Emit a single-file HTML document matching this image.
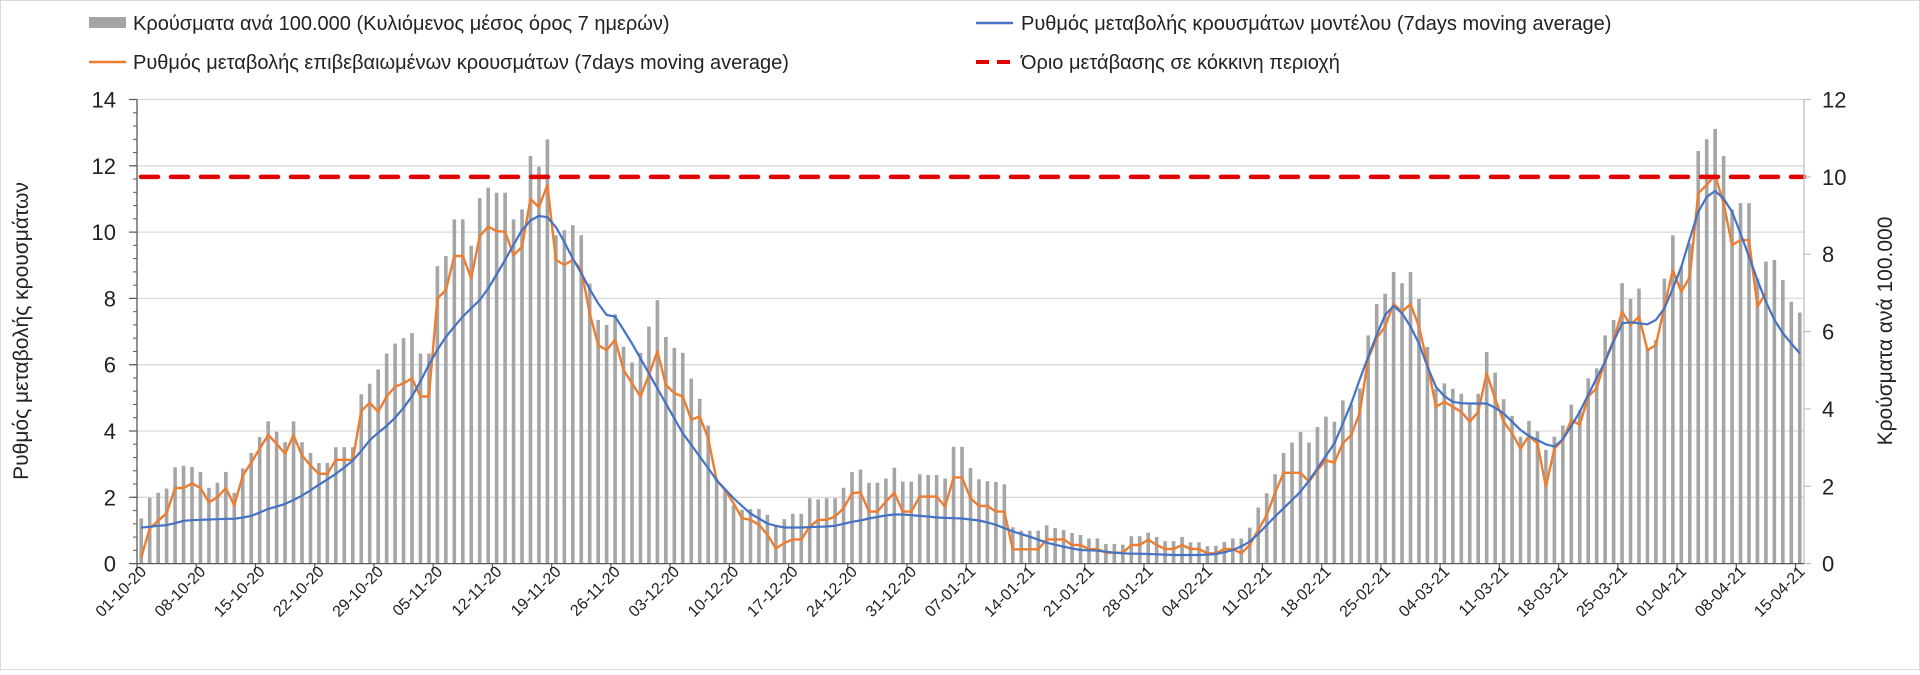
<!DOCTYPE html>
<html><head><meta charset="utf-8">
<style>
html,body{margin:0;padding:0;background:#fff;}
body{width:1920px;height:670px;overflow:hidden;font-family:"Liberation Sans",sans-serif;}
svg text{font-family:"Liberation Sans",sans-serif;fill:#222;}
</style></head>
<body>
<svg id="chart" width="1920" height="670" viewBox="0 0 1920 670" xmlns="http://www.w3.org/2000/svg">
<rect x="0.5" y="0.5" width="1919" height="669" fill="#fff" stroke="#d9d9d9"/>
<g>
 <g>
  <rect x="89" y="17" width="37" height="11" fill="#a5a5a5"/>
  <text x="133" y="30" font-size="20">Κρούσματα ανά 100.000 (Κυλιόμενος μέσος όρος 7 ημερών)</text>
 </g>
 <g>
  <line x1="976" y1="23" x2="1013" y2="23" stroke="#4472c4" stroke-width="2.5"/>
  <text x="1021" y="30" font-size="20">Ρυθμός μεταβολής κρουσμάτων μοντέλου (7days moving average)</text>
 </g>
 <g>
  <line x1="89" y1="62" x2="126" y2="62" stroke="#ed7d31" stroke-width="2.5"/>
  <text x="133" y="69" font-size="20">Ρυθμός μεταβολής επιβεβαιωμένων κρουσμάτων (7days moving average)</text>
 </g>
 <g>
  <line x1="976" y1="62" x2="1013" y2="62" stroke="#e00000" stroke-width="4" stroke-dasharray="13,8"/>
  <text x="1021" y="69" font-size="20">Όριο μετάβασης σε κόκκινη περιοχή</text>
 </g>
</g>
<text font-size="21" text-anchor="middle" transform="translate(28,331) rotate(-90)">Ρυθμός μεταβολής κρουσμάτων</text>
<text font-size="21" text-anchor="middle" transform="translate(1892,331) rotate(-90)">Κρούσματα ανά 100.000</text>
<g id="grid"></g><g id="bars"></g><g id="lines"></g><g id="axes"></g>
</svg>
<script>
const xTickLabels = ["01-10-20","08-10-20","15-10-20","22-10-20","29-10-20","05-11-20","12-11-20","19-11-20","26-11-20","03-12-20","10-12-20","17-12-20","24-12-20","31-12-20","07-01-21","14-01-21","21-01-21","28-01-21","04-02-21","11-02-21","18-02-21","25-02-21","04-03-21","11-03-21","18-03-21","25-03-21","01-04-21","08-04-21","15-04-21"];
const leftTicks = [0,2,4,6,8,10,12,14];
const rightTicks = [0,2,4,6,8,10,12];
const redThreshold = 10;
const casesPer100k = [
1.17,1.70,1.83,1.94,2.49,2.53,2.50,2.37,1.96,2.09,2.37,1.83,2.46,2.86,3.27,3.68,3.41,3.14,3.68,3.14,2.86,2.60,2.60,3.01,3.01,3.01,4.38,4.65,
5.02,5.43,5.69,5.83,5.96,5.43,5.43,7.69,7.95,8.90,8.90,8.22,9.45,9.72,9.59,9.59,8.90,9.16,10.54,10.26,10.97,8.49,8.62,8.75,8.49,7.24,6.30,6.17,
6.45,5.61,5.20,5.45,6.13,6.81,5.86,5.58,5.45,4.78,4.26,3.57,2.19,1.92,1.52,1.39,1.41,1.41,1.26,1.00,1.15,1.29,1.29,1.69,1.66,1.69,1.69,1.96,2.37,
2.43,2.09,2.09,2.20,2.48,2.12,2.12,2.31,2.29,2.29,2.20,3.02,3.02,2.47,2.18,2.13,2.11,2.05,0.94,0.85,0.85,0.85,0.99,0.92,0.87,0.79,0.74,0.65,
0.65,0.51,0.51,0.49,0.71,0.71,0.80,0.69,0.58,0.58,0.69,0.55,0.55,0.45,0.46,0.56,0.65,0.65,0.93,1.45,1.82,2.31,2.86,3.13,3.40,3.13,3.53,3.80,3.67,
4.22,4.12,4.53,5.90,6.71,6.98,7.54,7.25,7.54,6.84,5.60,4.52,4.66,4.52,4.39,4.11,4.39,5.47,4.94,4.25,3.82,3.28,3.69,3.42,2.94,3.28,3.57,4.11,
3.97,4.79,5.05,5.90,6.30,7.25,6.84,7.11,5.56,5.78,7.37,8.49,7.68,8.28,10.67,10.97,11.24,10.54,9.16,9.32,9.32,7.37,7.81,7.85,7.33,6.77,6.49];
const confirmedRate = [
0.18,1.06,1.29,1.52,2.28,2.28,2.42,2.28,1.85,2.00,2.28,1.75,2.66,3.04,3.47,3.88,3.62,3.31,3.87,3.26,2.96,2.71,2.71,3.13,3.13,3.13,4.60,4.85,
4.58,5.04,5.34,5.44,5.59,5.04,5.04,8.00,8.25,9.28,9.28,8.61,9.88,10.16,10.03,10.01,9.30,9.56,11.00,10.75,11.42,9.16,9.01,9.16,8.86,7.55,6.59,6.44,
6.75,5.84,5.44,5.04,5.69,6.40,5.39,5.14,5.04,4.34,4.44,3.78,2.52,2.22,1.82,1.37,1.32,1.17,0.87,0.46,0.62,0.73,0.73,1.11,1.32,1.32,1.42,1.67,2.12,
2.15,1.57,1.57,1.87,2.14,1.57,1.57,2.02,2.02,2.02,1.72,2.60,2.60,1.97,1.74,1.74,1.57,1.57,0.43,0.43,0.43,0.43,0.73,0.73,0.73,0.56,0.56,0.43,
0.44,0.33,0.33,0.33,0.56,0.56,0.72,0.56,0.44,0.44,0.56,0.44,0.44,0.31,0.31,0.44,0.44,0.31,0.56,1.01,1.46,2.14,2.74,2.74,2.74,2.47,2.82,3.12,3.04,
3.63,3.88,4.55,6.19,6.80,7.15,7.83,7.60,7.83,7.15,6.04,4.73,4.88,4.73,4.58,4.28,4.58,5.74,4.98,4.28,3.93,3.47,3.85,3.63,2.32,3.47,3.73,4.33,
4.19,5.04,5.29,6.14,6.74,7.60,7.20,7.45,6.44,6.59,7.75,8.85,8.20,8.65,11.17,11.42,11.72,10.87,9.61,9.76,9.76,7.75,8.17];
const modelRate = [
1.09,1.11,1.14,1.16,1.22,1.29,1.31,1.32,1.33,1.34,1.35,1.35,1.39,1.44,1.54,1.65,1.72,1.80,1.92,2.05,2.21,2.38,2.54,2.71,2.90,3.11,3.40,3.72,
3.95,4.15,4.40,4.70,5.05,5.50,6.00,6.45,6.84,7.15,7.45,7.70,7.95,8.30,8.72,9.16,9.62,10.06,10.35,10.49,10.45,10.15,9.70,9.20,8.76,8.28,7.85,7.50,
7.45,7.05,6.64,6.19,5.74,5.28,4.83,4.38,3.93,3.58,3.23,2.88,2.52,2.24,1.97,1.74,1.51,1.36,1.21,1.14,1.09,1.09,1.09,1.10,1.11,1.12,1.14,1.20,1.26,
1.30,1.36,1.41,1.45,1.48,1.48,1.46,1.44,1.42,1.39,1.38,1.37,1.36,1.33,1.30,1.24,1.17,1.07,0.97,0.89,0.81,0.72,0.63,0.57,0.51,0.46,0.41,0.40,
0.39,0.36,0.33,0.31,0.30,0.30,0.29,0.28,0.27,0.26,0.26,0.26,0.26,0.27,0.29,0.34,0.41,0.52,0.66,0.90,1.16,1.42,1.67,1.92,2.17,2.50,2.87,3.25,3.63,
4.22,4.84,5.55,6.24,6.90,7.50,7.77,7.55,7.15,6.64,5.95,5.33,5.05,4.88,4.84,4.83,4.83,4.83,4.70,4.53,4.28,4.03,3.85,3.73,3.60,3.53,3.75,4.15,
4.58,5.09,5.60,6.09,6.70,7.25,7.28,7.25,7.22,7.35,7.70,8.30,8.95,9.80,10.61,11.06,11.24,11.01,10.61,9.96,9.26,8.55,7.90,7.35,6.95,6.64,6.34];

const NS='http://www.w3.org/2000/svg';
const X0=137, X1=1804, Y0=563.6, YT=99.5, N=casesPer100k.length;
const bw=(X1-X0)/N;
const xC=i=>X0+bw*(i+0.5);
const yL=v=>Y0-(Y0-YT)*v/14;
const yR=v=>Y0-(Y0-YT)*v/12;
function mk(tag,attrs,parent){const e=document.createElementNS(NS,tag);for(const k in attrs)e.setAttribute(k,attrs[k]);parent.appendChild(e);return e;}
const grid=document.getElementById('grid'),bars=document.getElementById('bars'),lines=document.getElementById('lines'),axes=document.getElementById('axes');

leftTicks.forEach(v=>{
  if(v>0){const g=mk('line',{x1:X0,x2:X1,y1:yL(v),y2:yL(v),stroke:'#d9d9d9','stroke-width':1.3},grid);
  
  }
  const t=mk('text',{x:116,y:yL(v)+8,'font-size':22,'text-anchor':'end'},axes);t.textContent=v;
  
  
  mk('line',{x1:X0-8,x2:X0,y1:yL(v),y2:yL(v),stroke:'#595959','stroke-width':1.2},axes);
});
for(let k=0;k<=35;k++){const v=k*0.4;mk('line',{x1:X0-4,x2:X0,y1:yL(v),y2:yL(v),stroke:'#595959','stroke-width':1},axes);}
rightTicks.forEach(v=>{
  const t=mk('text',{x:1822,y:yR(v)+8,'font-size':22,'text-anchor':'start'},axes);t.textContent=v;
  
  
  mk('line',{x1:X1,x2:X1+7,y1:yR(v),y2:yR(v),stroke:'#bfbfbf','stroke-width':1.2},axes);
});
const la=mk('line',{x1:X0,x2:X0,y1:YT,y2:Y0,stroke:'#595959','stroke-width':1.3},axes);


const ra=mk('line',{x1:X1,x2:X1,y1:YT,y2:Y0,stroke:'#bfbfbf','stroke-width':1.3},axes);


const xa=mk('line',{x1:X0,x2:X1,y1:Y0,y2:Y0,stroke:'#595959','stroke-width':1.3},axes);


xTickLabels.forEach((lab,k)=>{
  const i=k*7;const tx=X0+bw*i;
  mk('line',{x1:tx,x2:tx,y1:Y0,y2:Y0+7,stroke:'#595959','stroke-width':1.2},axes);
  const cx=xC(Math.min(i,N-1));
  const t=mk('text',{'font-size':16,'text-anchor':'end',transform:`translate(${cx+6},${Y0+9}) rotate(-45)`},axes);
  t.textContent=lab;
  
  
});
casesPer100k.forEach((v,i)=>{
  const r=mk('rect',{x:xC(i)-1.8,y:yR(v),width:3.6,height:Y0-yR(v),fill:'#a5a5a5'},bars);
  
  
});
const oPts=confirmedRate.map((v,i)=>xC(i).toFixed(1)+','+yL(v).toFixed(1)).join(' ');
const ol=mk('polyline',{points:oPts,fill:'none',stroke:'#ed7d31','stroke-width':2.4,'stroke-linejoin':'round'},lines);


let d='';modelRate.forEach((v,i)=>{d+=(i?'L':'M')+xC(i).toFixed(1)+','+yL(v).toFixed(1);});
const bl=mk('path',{d:d,fill:'none',stroke:'#4472c4','stroke-width':2.2,'stroke-linejoin':'round'},lines);


const rl=mk('line',{x1:X0+4,x2:X1,y1:yR(redThreshold),y2:yR(redThreshold),stroke:'#e00000','stroke-width':4.5,'stroke-dasharray':'17,13','stroke-linecap':'round'},lines);


</script>
</body></html>
